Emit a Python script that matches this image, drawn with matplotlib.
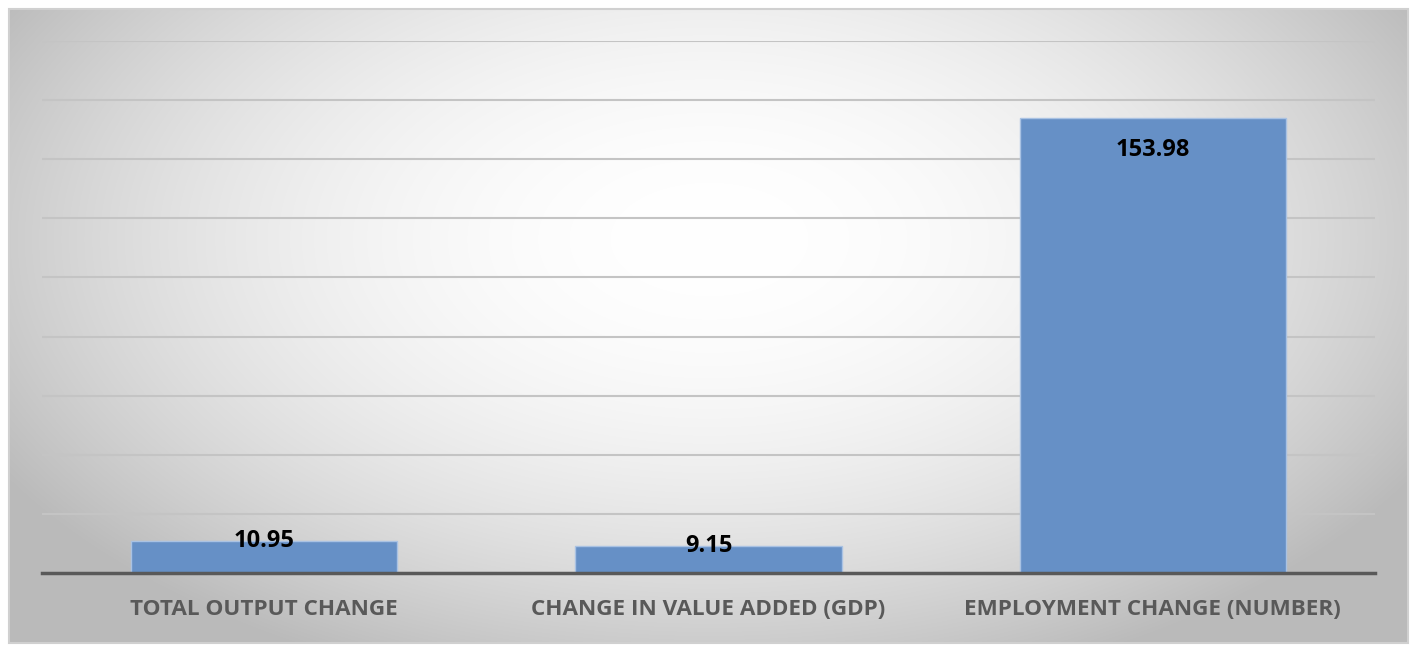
import numpy as np
import matplotlib.pyplot as plt
from matplotlib.patches import Rectangle

plt.rcParams['font.family'] = ['Open Sans', 'DejaVu Sans']

#%% Data

categories = ['TOTAL OUTPUT CHANGE', 'CHANGE IN VALUE ADDED (GDP)', 'EMPLOYMENT CHANGE (NUMBER)']
values = [10.95, 9.15, 153.98]
value_labels = ['10.95', '9.15', '153.98']

#%% Figure

W, H = 1417, 652
fig = plt.figure(figsize=(W / 100, H / 100), dpi=100)
fig.patch.set_facecolor('white')

# gradient frame behind the chart
bg = fig.add_axes([9 / W, 1 - 643 / H, 1399 / W, 634 / H])
bg.set_axis_off()
yy, xx = np.mgrid[0:634, 0:1399]
r = np.sqrt(((xx - 700) / 820.0) ** 2 + ((yy - 230) / 470.0) ** 2)
r = np.clip(r, 0, 1)
shade = 1.0 - 0.27 * r ** 2
bg.imshow(np.dstack([shade, shade, shade]), aspect='auto', extent=(0, 1, 0, 1))
bg.set_xlim(0, 1)
bg.set_ylim(0, 1)
bg.add_patch(Rectangle((0, 0), 1, 1, fill=False, edgecolor='#d0d0d0', lw=1.5,
                       transform=bg.transAxes, clip_on=False))

ax = fig.add_axes([42 / W, 79 / H, 1333 / W, 532 / H])
ax.patch.set_alpha(0)

x = np.arange(len(categories))
bars = ax.bar(x, values, width=0.6, color='#6690c6', edgecolor='#a9c2e3', linewidth=1, zorder=3)

# labels sit inside the top of tall bars, on the top edge of short ones
for xi, v, lab in zip(x, values, value_labels):
    y = v - 11 if v > 50 else v
    ax.text(xi, y, lab, ha='center', va='center', fontsize=17, fontweight='bold',
            color='black', zorder=4)

ax.set_xlim(-0.5, 2.5)
ax.set_ylim(0, 180)
ax.set_yticks(np.arange(0, 181, 20))
ax.yaxis.grid(True, color='#c4c4c4', lw=1.5, zorder=0)
ax.tick_params(axis='y', left=False, labelleft=False)
ax.tick_params(axis='x', bottom=False, pad=15)
ax.set_xticks(x)
ax.set_xticklabels(categories, fontsize=16.2, fontweight='bold', color='#595959')
for s in ['top', 'left', 'right']:
    ax.spines[s].set_visible(False)
ax.spines['bottom'].set_color('#595959')
ax.spines['bottom'].set_linewidth(2.5)
ax.spines['bottom'].set_zorder(5)

plt.savefig('out.png', dpi=100)
